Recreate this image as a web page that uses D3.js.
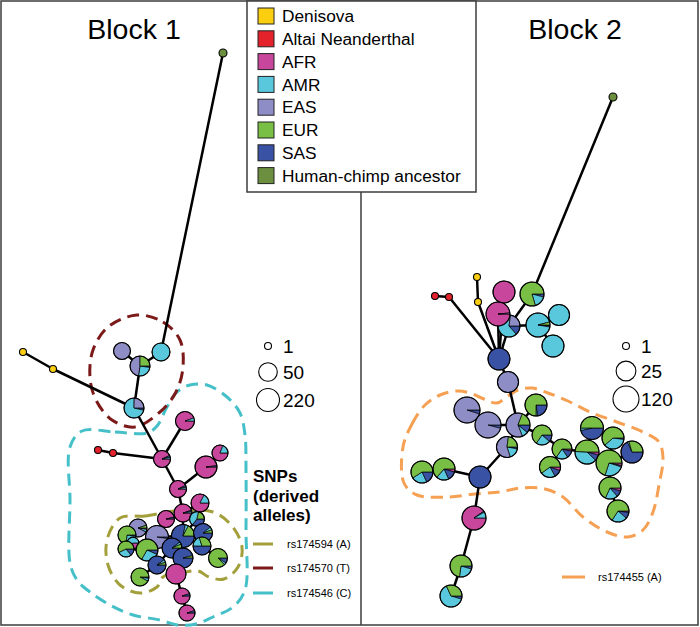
<!DOCTYPE html>
<html><head><meta charset="utf-8">
<script src="https://cdn.jsdelivr.net/npm/d3@7"></script>
<style>body{margin:0;background:#fff}svg{display:block;font-family:"Liberation Sans",Arial,sans-serif}</style>
</head><body><svg id="c" width="700" height="627"></svg>
<script>
// ---------------- DATA ----------------
// pie slice order (clockwise from 3 o'clock)
const pieOrder = ["AFR","SAS","AMR","EAS","EUR"];
const legendKeys = ["DEN","ALT","AFR","AMR","EAS","EUR","SAS","ANC"];
const legendLabels = ["Denisova","Altai Neanderthal","AFR","AMR","EAS","EUR","SAS","Human-chimp ancestor"];
const legendColors = ["#fbcf0f","#e3222b","#c8479c","#5ac8dc","#8e8dc6","#79bf45","#3a52a3","#6b8f3e"];

// Block 1 haplotypes: id, kind, layout x, layout y, counts [AFR,SAS,AMR,EAS,EUR]
const block1Nodes = [
  {id:"anc",  kind:"ANC", x:223, y:53,  c:[1]},
  {id:"amrA", kind:"POP", x:161, y:352, c:[0,0,40,0,0]},
  {id:"easA", kind:"POP", x:122, y:351, c:[0,0,0,29,0]},
  {id:"mix1", kind:"POP", x:140, y:366, c:[0,2,20,38,20]},
  {id:"amrB", kind:"POP", x:134, y:408, c:[0,3,58,20,0]},
  {id:"den1", kind:"DEN", x:23,  y:352, c:[1]},
  {id:"den2", kind:"DEN", x:53,  y:369, c:[1]},
  {id:"alt1", kind:"ALT", x:98,  y:450, c:[1]},
  {id:"alt2", kind:"ALT", x:113, y:453, c:[1]},
  {id:"afr1", kind:"POP", x:162, y:459, c:[27,1,1,0,0]},
  {id:"afr2", kind:"POP", x:185, y:421, c:[54,0,3,0,0]},
  {id:"afr3", kind:"POP", x:178, y:489, c:[27,1,1,0,0]},
  {id:"afrBig",kind:"POP",x:206, y:467, c:[150,3,0,0,0]},
  {id:"afrS", kind:"POP", x:220, y:453, c:[17,0,4,0,0]},
  {id:"afr4", kind:"POP", x:183, y:513, c:[38,1,1,0,0]},
  {id:"afr5", kind:"POP", x:166, y:519, c:[28,1,0,0,0]},
  {id:"afr6", kind:"POP", x:200, y:503, c:[33,0,7,0,0]},
  {id:"eas1", kind:"POP", x:138, y:528, c:[1,0,2,35,2]},
  {id:"g1",   kind:"POP", x:127, y:535, c:[0,1,10,0,30]},
  {id:"cp",   kind:"POP", x:133, y:543, c:[2,0,3,0,0]},
  {id:"easBig",kind:"POP",x:157, y:537, c:[0,5,0,210,0]},
  {id:"cs1",  kind:"POP", x:197, y:519, c:[0,5,6,0,3]},
  {id:"sasBig",kind:"POP",x:183, y:536, c:[0,180,10,0,40]},
  {id:"sas1", kind:"POP", x:203, y:533, c:[0,50,3,0,3]},
  {id:"gm",   kind:"POP", x:147, y:550, c:[0,10,40,0,100]},
  {id:"g2",   kind:"POP", x:126, y:549, c:[0,3,6,0,12]},
  {id:"sas2", kind:"POP", x:172, y:548, c:[0,70,3,0,5]},
  {id:"m3",   kind:"POP", x:202, y:546, c:[0,20,8,0,12]},
  {id:"sas3", kind:"POP", x:183, y:558, c:[0,75,0,0,3]},
  {id:"g3",   kind:"POP", x:218, y:558, c:[0,5,2,0,48]},
  {id:"sas4", kind:"POP", x:157, y:565, c:[0,36,2,0,2]},
  {id:"g4",   kind:"POP", x:140, y:577, c:[0,1,2,0,36]},
  {id:"afr7", kind:"POP", x:176, y:574, c:[80,0,0,0,0]},
  {id:"afr8", kind:"POP", x:182, y:596, c:[20,1,0,0,0]},
  {id:"afr9", kind:"POP", x:187, y:613, c:[20,1,0,0,0]}
];
const block1Links = [
  ["anc","amrA"],["amrA","mix1"],["easA","mix1"],["mix1","amrB"],["den1","den2"],["den2","amrB"],
  ["amrB","afr1"],["alt1","alt2"],["alt2","afr1"],["afr1","afr2"],["afr1","afr3"],["afr3","afrBig"],
  ["afrBig","afrS"],["afr3","afr4"],["afr4","afr5"],["afr4","afr6"],["afr4","sasBig"],["sasBig","easBig"],
  ["easBig","eas1"],["eas1","g1"],["easBig","gm"],["gm","g2"],["sasBig","cs1"],["sasBig","sas1"],
  ["sas1","m3"],["m3","g3"],["sasBig","sas2"],["sas2","sas3"],["sas3","afr7"],["afr7","afr8"],
  ["afr8","afr9"],["sas2","sas4"],["sas4","g4"],["gm","sas4"]
];

// Block 2 haplotypes
const block2Nodes = [
  {id:"anc",  kind:"ANC", x:613, y:97,  c:[1]},
  {id:"eurBig",kind:"POP",x:532, y:294, c:[0,3,12,0,58]},
  {id:"den1", kind:"DEN", x:477, y:277, c:[1]},
  {id:"den2", kind:"DEN", x:478, y:302, c:[1]},
  {id:"alt1", kind:"ALT", x:435, y:296, c:[1]},
  {id:"alt2", kind:"ALT", x:449, y:297, c:[1]},
  {id:"afrB", kind:"POP", x:504, y:292, c:[44,0,0,0,0]},
  {id:"amrBig",kind:"POP",x:538, y:325, c:[1,1,68,0,3]},
  {id:"amr2", kind:"POP", x:559, y:315, c:[0,0,35,0,0]},
  {id:"amr3", kind:"POP", x:553, y:346, c:[0,0,44,0,0]},
  {id:"amrES",kind:"POP", x:509, y:326, c:[0,6,28,10,0]},
  {id:"afrE", kind:"POP", x:498, y:314, c:[70,0,0,1,0]},
  {id:"sasHub",kind:"POP",x:499, y:359, c:[0,44,0,0,0]},
  {id:"eas2", kind:"POP", x:508, y:382, c:[0,0,0,35,0]},
  {id:"easBig1",kind:"POP",x:467,y:410, c:[0,6,0,114,0]},
  {id:"easBig2",kind:"POP",x:488,y:425, c:[0,5,0,115,0]},
  {id:"eurSas",kind:"POP",x:536, y:405, c:[0,10,1,0,33]},
  {id:"mix",  kind:"POP", x:518, y:425, c:[0,8,6,45,14]},
  {id:"eae",  kind:"POP", x:507, y:447, c:[0,1,6,20,8]},
  {id:"e1",   kind:"POP", x:542, y:435, c:[0,3,6,0,17]},
  {id:"e2",   kind:"POP", x:562, y:449, c:[1,3,5,0,17]},
  {id:"e3",   kind:"POP", x:550, y:467, c:[2,4,8,0,21]},
  {id:"e5",   kind:"POP", x:592, y:428, c:[0,26,2,0,28]},
  {id:"e6",   kind:"POP", x:613, y:438, c:[0,1,16,0,27]},
  {id:"e7",   kind:"POP", x:632, y:452, c:[0,30,1,0,13]},
  {id:"e4",   kind:"POP", x:587, y:452, c:[3,6,28,0,36]},
  {id:"e8",   kind:"POP", x:609, y:463, c:[4,2,30,0,84]},
  {id:"e9",   kind:"POP", x:610, y:488, c:[2,4,8,0,30]},
  {id:"e10",  kind:"POP", x:618, y:511, c:[1,4,10,0,29]},
  {id:"l1",   kind:"POP", x:422, y:472, c:[0,8,10,0,26]},
  {id:"l2",   kind:"POP", x:444, y:469, c:[2,6,8,0,28]},
  {id:"sas5", kind:"POP", x:480, y:477, c:[0,44,0,0,0]},
  {id:"afr10",kind:"POP", x:474, y:518, c:[66,1,6,0,0]},
  {id:"e11",  kind:"POP", x:461, y:566, c:[0,2,10,0,32]},
  {id:"e12",  kind:"POP", x:451, y:596, c:[0,2,28,0,14]}
];
const block2Links = [
  ["anc","eurBig"],["eurBig","amrES"],["sasHub","alt2"],["alt1","alt2"],["sasHub","den2"],["den1","den2"],
  ["sasHub","afrE"],["sasHub","afrB"],["sasHub","amrES"],["amrES","amrBig"],["amrBig","amr2"],["amrBig","amr3"],
  ["sasHub","eas2"],["eas2","mix"],["mix","easBig2"],["easBig2","easBig1"],["mix","eurSas"],["mix","e1"],
  ["e1","e2"],["e2","e3"],["e2","e4"],["e4","e5"],["e4","e8"],["e8","e6"],["e8","e7"],["e8","e9"],["e9","e10"],
  ["mix","eae"],["eae","sas5"],["sas5","l2"],["l2","l1"],["sas5","afr10"],["afr10","e11"],["e11","e12"]
];

// SNP outlines (layout units)
const hullRs174570 = [[137,315],[163,322],[180,340],[183,367],[176,392],[160,412],[135,427],[112,420],[96,400],[90,378],[93,350],[108,327]];
const hullRs174546 = [[82,431],[115,432],[147,433],[157,426],[167,407],[177,392],[190,385],[207,385],[227,397],[240,413],[245,435],[246,470],[246,530],[245,590],[233,607],[213,617],[196,624],[178,625],[160,620],[133,615],[110,605],[90,592],[77,580],[70,563],[70,500],[70,447]];
const hullRs174594 = [[120,518],[145,516],[175,511],[213,512],[232,526],[242,547],[238,567],[224,579],[209,577],[198,571],[180,573],[163,577],[157,587],[140,593],[120,585],[108,565],[107,540]];
const hullRs174455 = [[403,447],[412,424],[425,405],[440,395],[457,391],[470,393],[484,399],[497,403],[508,396],[518,390],[532,388],[548,393],[568,401],[590,412],[617,422],[643,432],[659,442],[663,458],[659,485],[653,512],[643,530],[628,537],[607,532],[583,517],[563,497],[545,489],[520,488],[500,492],[475,494],[448,497],[417,495],[404,483]];

const snpLabels1 = ["rs174594 (A)","rs174570 (T)","rs174546 (C)"];
const snpLabels2 = ["rs174455 (A)"];
const snpColors1 = ["#a3a03c","#7c1a1a","#45c0c8"];
const snpColors2 = ["#f5a053"];

const sizeLegend1 = [1,50,220];
const sizeLegend2 = [1,25,120];

// ---------------- DRAW ----------------
const svg = d3.select("#c");
const W = 700, H = 627;
const x = d3.scaleLinear().domain([0,700]).range([0,W]);
const y = d3.scaleLinear().domain([0,627]).range([0,H]);
const r1 = d3.scaleLog().domain([1,220]).range([3.5,11.5]);
const r2 = d3.scaleLog().domain([1,120]).range([3.5,13]);
const color = d3.scaleOrdinal().domain(legendKeys).range(legendColors);
const pie = d3.pie().sort(null).value(d=>d.v).startAngle(Math.PI/2).endAngle(Math.PI/2 + 2*Math.PI);
const hullLine = d3.line().x(d=>x(d[0])).y(d=>y(d[1])).curve(d3.curveCatmullRomClosed.alpha(0.5));

// frame
svg.append("rect").attr("x",1).attr("y",1).attr("width",697).attr("height",624)
  .attr("fill","none").attr("stroke","#3c3c3c").attr("stroke-width",1.5);
svg.append("line").attr("x1",361).attr("x2",361).attr("y1",192).attr("y2",625)
  .attr("stroke","#3c3c3c").attr("stroke-width",1.5);

// titles
svg.append("text").attr("x",134).attr("y",39).attr("text-anchor","middle").attr("font-size",28.5).text("Block 1");
svg.append("text").attr("x",575).attr("y",39).attr("text-anchor","middle").attr("font-size",28.5).text("Block 2");

function drawHull(pts, col){
  svg.append("path").attr("d", hullLine(pts)).attr("fill","none").attr("stroke",col)
    .attr("stroke-width",3).attr("stroke-dasharray","12,7");
}
drawHull(hullRs174546, snpColors1[2]);
drawHull(hullRs174570, snpColors1[1]);
drawHull(hullRs174594, snpColors1[0]);
drawHull(hullRs174455, snpColors2[0]);

function drawNetwork(nodes, links, rScale){
  const byId = new Map(nodes.map(n=>[n.id,n]));
  const g = svg.append("g");
  g.selectAll("line.link").data(links).join("line").attr("class","link")
    .attr("x1",d=>x(byId.get(d[0]).x)).attr("y1",d=>y(byId.get(d[0]).y))
    .attr("x2",d=>x(byId.get(d[1]).x)).attr("y2",d=>y(byId.get(d[1]).y))
    .attr("stroke","#000").attr("stroke-width",2.5);
  const ng = g.selectAll("g.node").data(nodes).join("g").attr("class","node")
    .attr("transform",d=>`translate(${x(d.x)},${y(d.y)})`);
  ng.each(function(d){
    const sel = d3.select(this);
    const total = d3.sum(d.c);
    const rad = rScale(total);
    if(d.kind !== "POP"){
      sel.append("circle").attr("r",d.kind==="ANC"?4:rad).attr("fill",color(d.kind)).attr("stroke","#000").attr("stroke-width",1.1);
      return;
    }
    const vals = pieOrder.map((p,i)=>({p, v:d.c[i]})).filter(s=>s.v>0);
    const arc = d3.arc().innerRadius(0).outerRadius(rad);
    sel.selectAll("path").data(pie(vals)).join("path").attr("d",arc)
      .attr("fill",s=>color(s.data.p)).attr("stroke","#000").attr("stroke-width",0.7).attr("stroke-linejoin","round");
    sel.append("circle").attr("r",rad).attr("fill","none").attr("stroke","#000").attr("stroke-width",1.1);
  });
}
drawNetwork(block1Nodes, block1Links, r1);
drawNetwork(block2Nodes, block2Links, r2);

// size legends
function sizeLegend(vals, rScale, cx, ys, tx){
  vals.forEach((v,i)=>{
    svg.append("circle").attr("cx",cx).attr("cy",ys[i]).attr("r",rScale(v)).attr("fill","#fff").attr("stroke","#000").attr("stroke-width",1.1);
    svg.append("text").attr("x",tx).attr("y",ys[i]).attr("dy","0.36em").attr("font-size",19).text(v);
  });
}
sizeLegend(sizeLegend1, r1, 268, [346,372,400], 283);
sizeLegend(sizeLegend2, r2, 626, [346,371,399], 641);

// SNP legend
const snpT = svg.append("text").attr("x",253).attr("font-size",17).attr("font-weight","bold");
["SNPs","(derived","alleles)"].forEach((t,i)=>snpT.append("tspan").attr("x",253).attr("y",482+i*19.5).text(t));
snpLabels1.forEach((t,i)=>{
  const yy = [544,568,593][i];
  svg.append("line").attr("x1",253).attr("x2",273).attr("y1",yy).attr("y2",yy).attr("stroke",snpColors1[i]).attr("stroke-width",3);
  svg.append("text").attr("x",287).attr("y",yy).attr("dy","0.35em").attr("font-size",11).text(t);
});
snpLabels2.forEach((t,i)=>{
  svg.append("line").attr("x1",562).attr("x2",585).attr("y1",577).attr("y2",577).attr("stroke",snpColors2[i]).attr("stroke-width",3);
  svg.append("text").attr("x",598).attr("y",577).attr("dy","0.35em").attr("font-size",11).text(t);
});

// population legend
const lg = svg.append("g");
lg.append("rect").attr("x",247).attr("y",1).attr("width",229).attr("height",191).attr("fill","#fff").attr("stroke","#3c3c3c").attr("stroke-width",1.5);
legendLabels.forEach((t,i)=>{
  const cy = 16 + i*22.8;
  lg.append("rect").attr("x",258).attr("y",cy-8).attr("width",16).attr("height",16)
    .attr("fill",legendColors[i]).attr("stroke","#222").attr("stroke-width",1);
  lg.append("text").attr("x",282).attr("y",cy).attr("dy","0.36em").attr("font-size",17.3).text(t);
});
</script></body></html>
